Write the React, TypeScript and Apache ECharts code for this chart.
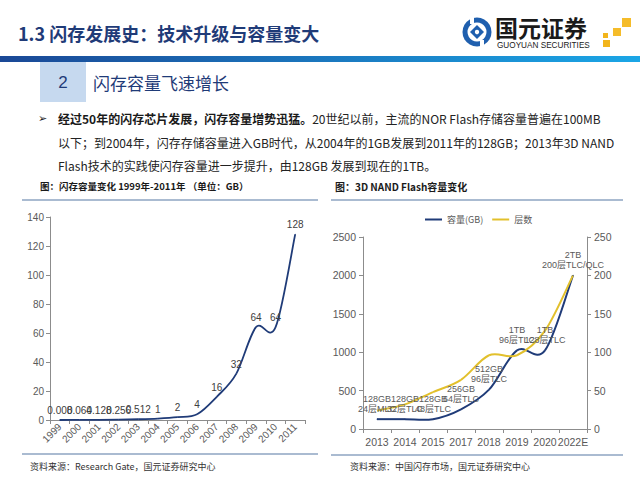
import React, { useEffect, useRef } from "react";
import * as echarts from "echarts";

// ---- Left chart data: flash capacity 1999-2011 (GB)
const years = ["1999", "2000", "2001", "2002", "2003", "2004", "2005", "2006", "2007", "2008", "2009", "2010", "2011"];
const capacityGB = [0.008, 0.064, 0.128, 0.256, 0.512, 1, 2, 4, 16, 32, 64, 64, 128];
const capacityLabels = ["0.008", "0.064", "0.128", "0.256", "0.512", "1", "2", "4", "16", "32", "64", "64", "128"];

// ---- Right chart data: 3D NAND flash
const nandYears = ["2013", "2014", "2015", "2017", "2018", "2019", "2020", "2022E"];
const nandCapacity = [128, 128, 128, 256, 512, 1024, 1024, 2000];
const nandLayers = [24, 32, 48, 64, 96, 96, 128, 200];
const nandLabels = [
  "128GB\n24层MLC",
  "128GB\n32层TLC",
  "128GB\n48层TLC",
  "256GB\n64层TLC",
  "512GB\n96层TLC",
  "1TB\n96层TLC",
  "1TB\n128层TLC",
  "2TB\n200层TLC/QLC",
];
const legendNames = ["容量(GB)", "层数"];

// ---- Slide texts
const slideTitle = "1.3 闪存发展史：技术升级与容量变大";
const sectionNo = "2";
const sectionTitle = "闪存容量飞速增长";
const paraBold = "经过50年的闪存芯片发展，闪存容量增势迅猛。";
const paraLine1 = "20世纪以前，主流的NOR Flash存储容量普遍在100MB";
const paraLine2 = "以下；到2004年，闪存存储容量进入GB时代，从2004年的1GB发展到2011年的128GB；2013年3D NAND";
const paraLine3 = "Flash技术的实践使闪存容量进一步提升，由128GB 发展到现在的1TB。";
const captionLeft = "图：闪存容量变化 1999年-2011年 （单位：GB）";
const captionRight = "图：3D NAND Flash容量变化";
const sourceLeft = "资料来源：Research Gate，国元证券研究中心";
const sourceRight = "资料来源：中国闪存市场，国元证券研究中心";

const CJK = '"Noto Sans CJK SC", "Liberation Sans", sans-serif';
const LAT = '"Liberation Sans", "Noto Sans CJK SC", sans-serif';
const NAVY = "#1f3b78";
const GOLD = "#e2c02c";
const AXIS = "#8c8c8c";
const LBL = "#595959";
const RULE = "#8ea4c2";

// Excel-like smoothed line (Catmull-Rom through the data points), positioned via the axes.
function splineSeries(name: string, values: number[], xAxisIndex: number, yAxisIndex: number, color: string, width: number) {
  const n = values.length;
  return {
    name,
    type: "custom",
    xAxisIndex,
    yAxisIndex,
    data: values.map((v, i) => [i, v]),
    encode: { x: 0, y: 1 },
    itemStyle: { color },
    clip: false,
    z: 3,
    renderItem: (params: any, api: any) => {
      const i = params.dataIndex;
      if (i >= n - 1) return null;
      const P = (k: number) => {
        const kk = Math.max(0, Math.min(n - 1, k));
        return api.coord([kk, values[kk]]);
      };
      const p0 = P(i - 1);
      const p1 = P(i);
      const p2 = P(i + 1);
      const p3 = P(i + 2);
      const t = 1 / 6;
      return {
        type: "bezierCurve",
        shape: {
          x1: p1[0],
          y1: p1[1],
          x2: p2[0],
          y2: p2[1],
          cpx1: p1[0] + (p2[0] - p0[0]) * t,
          cpy1: p1[1] + (p2[1] - p0[1]) * t,
          cpx2: p2[0] - (p3[0] - p1[0]) * t,
          cpy2: p2[1] - (p3[1] - p1[1]) * t,
        },
        style: { stroke: color, lineWidth: width, fill: "none" },
      };
    },
  };
}

export default function App() {
  const ref = useRef<HTMLDivElement>(null);
  useEffect(() => {
    if (!ref.current) return;
    const chart = echarts.init(ref.current, undefined, { renderer: "svg" });

    const axisLine = { show: true, lineStyle: { color: AXIS, width: 1 } };
    const axisTick = { show: true, length: 4, lineStyle: { color: AXIS } };
    const plain = (v: number) => String(v);

    const option: any = {
      animation: false,
      backgroundColor: "#ffffff",
      legend: {
        data: legendNames,
        left: 425,
        top: 215,
        padding: 0,
        itemGap: 9,
        itemWidth: 17,
        itemHeight: 2,
        icon: "rect",
        textStyle: { fontSize: 9, color: LBL, fontFamily: CJK },
      },
      grid: [
        { left: 50, top: 217, width: 255, height: 203 },
        { left: 363, top: 237, width: 224, height: 192 },
      ],
      xAxis: [
        {
          type: "category",
          gridIndex: 0,
          data: years,
          boundaryGap: true,
          axisLine,
          axisTick,
          axisLabel: { rotate: 45, interval: 0, fontSize: 10, color: LBL, margin: 5, fontFamily: LAT },
        },
        {
          type: "category",
          gridIndex: 1,
          data: nandYears,
          boundaryGap: true,
          axisLine,
          axisTick,
          axisLabel: { interval: 0, fontSize: 10.5, color: LBL, margin: 8, fontFamily: LAT },
        },
      ],
      yAxis: [
        {
          type: "value",
          gridIndex: 0,
          min: 0,
          max: 140,
          interval: 20,
          axisLine,
          axisTick,
          splitLine: { show: false },
          axisLabel: { fontSize: 10, color: LBL, margin: 6, fontFamily: LAT, formatter: plain },
        },
        {
          type: "value",
          gridIndex: 1,
          position: "left",
          min: 0,
          max: 2500,
          interval: 500,
          axisLine,
          axisTick,
          splitLine: { show: false },
          axisLabel: { fontSize: 10.5, color: LBL, margin: 7, fontFamily: LAT, formatter: plain },
        },
        {
          type: "value",
          gridIndex: 1,
          position: "right",
          min: 0,
          max: 250,
          interval: 50,
          axisLine,
          axisTick,
          splitLine: { show: false },
          axisLabel: { fontSize: 10.5, color: LBL, margin: 7, fontFamily: LAT, formatter: plain },
        },
      ],
      series: [
        splineSeries("容量变化", capacityGB, 0, 0, NAVY, 1.8),
        {
          name: "capacityLabels",
          type: "line",
          xAxisIndex: 0,
          yAxisIndex: 0,
          data: capacityGB,
          symbol: "circle",
          symbolSize: 1,
          itemStyle: { color: NAVY },
          lineStyle: { opacity: 0 },
          label: {
            show: true,
            position: "top",
            distance: 4,
            fontSize: 10,
            color: "#404040",
            fontFamily: LAT,
            formatter: (p: any) => capacityLabels[p.dataIndex],
          },
        },
        splineSeries(legendNames[0], nandCapacity, 1, 1, NAVY, 2),
        splineSeries(legendNames[1], nandLayers, 1, 2, GOLD, 2),
        {
          name: "nandLabels",
          type: "line",
          xAxisIndex: 1,
          yAxisIndex: 1,
          data: nandCapacity,
          symbol: "circle",
          symbolSize: 1,
          itemStyle: { color: NAVY },
          lineStyle: { opacity: 0 },
          z: 4,
          label: {
            show: true,
            position: "top",
            distance: 5,
            fontSize: 9,
            lineHeight: 10,
            color: LBL,
            fontFamily: LAT,
            formatter: (p: any) => nandLabels[p.dataIndex],
          },
        },
      ],
      graphic: [
        // slide title
        {
          type: "text",
          x: 18,
          y: 33,
          style: { text: slideTitle, fontSize: 18, fontWeight: "bold", fill: NAVY, fontFamily: CJK, verticalAlign: "middle" },
        },
        // gradient bar
        {
          type: "rect",
          shape: { x: 0, y: 56, width: 640, height: 6 },
          style: {
            fill: new echarts.graphic.LinearGradient(0, 0, 1, 0, [
              { offset: 0, color: "#1a4896" },
              { offset: 1, color: "#1ba6e6" },
            ]),
          },
        },
        // section box
        { type: "rect", shape: { x: 40, y: 62, width: 46, height: 40 }, style: { fill: "#c6d9ef" } },
        {
          type: "text",
          x: 63,
          y: 82,
          style: { text: sectionNo, fontSize: 17, fill: NAVY, fontFamily: LAT, align: "center", verticalAlign: "middle" },
        },
        {
          type: "text",
          x: 93,
          y: 82,
          style: { text: sectionTitle, fontSize: 17, fill: NAVY, fontFamily: CJK, verticalAlign: "middle" },
        },
        // logo
        { type: "circle", shape: { cx: 477, cy: 32, r: 14.5 }, style: { fill: "#1f5fae" } },
        { type: "circle", shape: { cx: 477, cy: 32, r: 9.5 }, style: { fill: "#ffffff" } },
        { type: "rect", shape: { x: 470, y: 16, width: 4, height: 8 }, style: { fill: "#ffffff" } },
        { type: "rect", shape: { x: 480, y: 40, width: 4, height: 8 }, style: { fill: "#ffffff" } },
        {
          type: "polygon",
          shape: { points: [[477, 25], [484, 32], [477, 39], [470, 32]] },
          style: { fill: "#1f5fae" },
        },
        { type: "circle", shape: { cx: 477, cy: 32, r: 2.2 }, style: { fill: "#ffffff" } },
        {
          type: "text",
          x: 495,
          y: 27,
          style: { text: "国元证券", fontSize: 23, fontWeight: "bold", fill: "#1a1a1a", fontFamily: CJK, verticalAlign: "middle" },
        },
        {
          type: "text",
          x: 497,
          y: 45.5,
          style: { text: "GUOYUAN SECURITIES", fontSize: 8.2, fill: "#1a1a1a", fontFamily: LAT, verticalAlign: "middle" },
        },
        { type: "rect", shape: { x: 603, y: 33, width: 5, height: 5 }, style: { fill: "#f2b51c" } },
        { type: "rect", shape: { x: 603, y: 40, width: 7, height: 7 }, style: { fill: "#f2b51c" } },
        { type: "rect", shape: { x: 613, y: 28, width: 8, height: 8 }, style: { fill: "#f5bc2a" } },
        { type: "rect", shape: { x: 622, y: 18, width: 9, height: 9 }, style: { fill: "#f5bc2a" } },
        // paragraph
        {
          type: "text",
          x: 38,
          y: 118,
          style: { text: "➢", fontSize: 11, fill: "#222222", fontFamily: '"DejaVu Sans", sans-serif', verticalAlign: "middle" },
        },
        {
          type: "text",
          x: 58,
          y: 118,
          style: {
            text: "{b|" + paraBold + "}{n|" + paraLine1 + "}",
            verticalAlign: "middle",
            rich: {
              b: { fontSize: 12, fontWeight: "bold", fill: "#1a1a1a", fontFamily: CJK },
              n: { fontSize: 12, fill: "#222222", fontFamily: CJK },
            },
          },
        },
        {
          type: "text",
          x: 58,
          y: 142,
          style: { text: paraLine2, fontSize: 12, fill: "#222222", fontFamily: CJK, verticalAlign: "middle" },
        },
        {
          type: "text",
          x: 58,
          y: 165,
          style: { text: paraLine3, fontSize: 12, fill: "#222222", fontFamily: CJK, verticalAlign: "middle" },
        },
        // captions
        {
          type: "text",
          x: 40,
          y: 186,
          style: { text: captionLeft, fontSize: 9.5, fontWeight: "bold", fill: "#1a1a1a", fontFamily: CJK, verticalAlign: "middle" },
        },
        {
          type: "text",
          x: 335,
          y: 186,
          style: { text: captionRight, fontSize: 10, fontWeight: "bold", fill: "#1a1a1a", fontFamily: CJK, verticalAlign: "middle" },
        },
        // rules
        { type: "line", shape: { x1: 22, y1: 200, x2: 318, y2: 200 }, style: { stroke: RULE, lineWidth: 1.3 } },
        { type: "line", shape: { x1: 331, y1: 200, x2: 623, y2: 200 }, style: { stroke: RULE, lineWidth: 1.3 } },
        { type: "line", shape: { x1: 22, y1: 454, x2: 318, y2: 454 }, style: { stroke: RULE, lineWidth: 1.3 } },
        { type: "line", shape: { x1: 331, y1: 455, x2: 623, y2: 455 }, style: { stroke: RULE, lineWidth: 1.3 } },
        // sources
        {
          type: "text",
          x: 30,
          y: 466,
          style: { text: sourceLeft, fontSize: 9, fill: "#333333", fontFamily: CJK, verticalAlign: "middle" },
        },
        {
          type: "text",
          x: 350,
          y: 466,
          style: { text: sourceRight, fontSize: 9, fill: "#333333", fontFamily: CJK, verticalAlign: "middle" },
        },
      ],
    };

    chart.setOption(option);
    return () => chart.dispose();
  }, []);

  return (
    <div
      ref={ref}
      style={{ position: "absolute", left: 0, top: 0, width: 640, height: 480, background: "#ffffff" }}
    />
  );
}
